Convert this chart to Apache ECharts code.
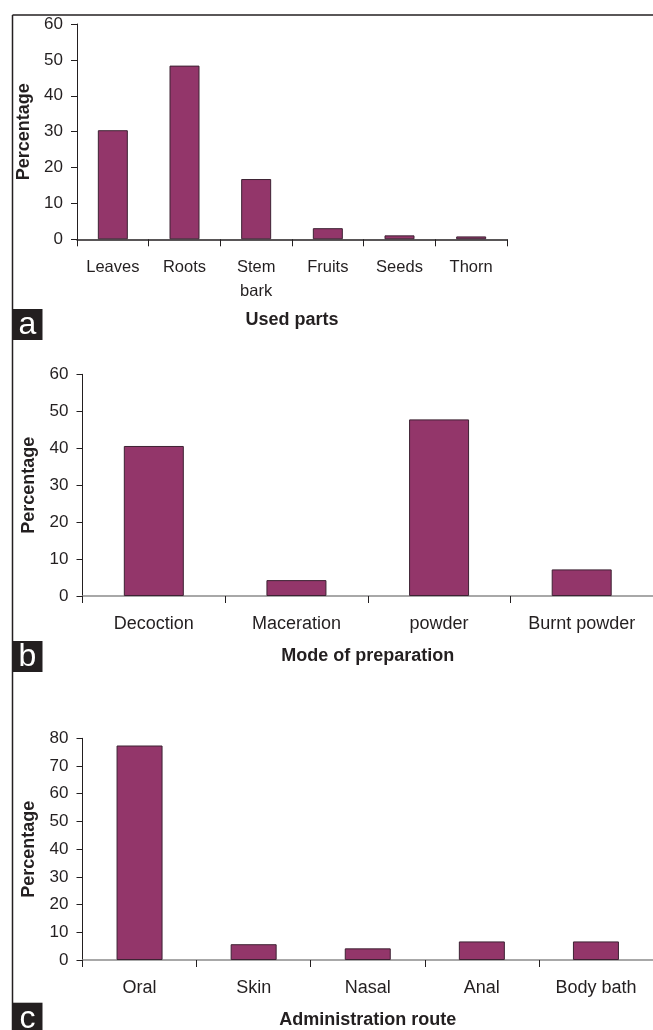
<!DOCTYPE html>
<html>
<head>
<meta charset="utf-8">
<script src="https://cdn.jsdelivr.net/npm/echarts@6/dist/echarts.min.js"></script>
<style>
html,body{margin:0;padding:0;background:#fff;}
#chart{width:653px;height:1030px;}
</style>
</head>
<body>
<div id="chart"></div>
<script>
// ---- data ----
var partsCategories = ['Leaves', 'Roots', 'Stem\nbark', 'Fruits', 'Seeds', 'Thorn'];
var partsValues = [30.4, 48.4, 16.8, 3.1, 1.1, 0.8];

var prepCategories = ['Decoction', 'Maceration', 'powder', 'Burnt powder'];
var prepValues = [40.6, 4.3, 47.8, 7.2];

var routeCategories = ['Oral', 'Skin', 'Nasal', 'Anal', 'Body bath'];
var routeValues = [77.4, 5.7, 4.2, 6.7, 6.7];

var panelLetters = ['a', 'b', 'c'];
var xNames = ['Used parts', 'Mode of preparation', 'Administration route'];
var yName = 'Percentage';

// ---- styles ----
var FONT = "'Liberation Sans', Arial, Helvetica, sans-serif";
var DARK = '#231f20';
var GREY = '#8c8c8c';
var BAR = '#93366a';
var BAR_BORDER = '#3d2233';

function xAxis(gridIndex, cats, name, fontSize, lineColor, nameGap) {
  return {
    type: 'category', gridIndex: gridIndex, data: cats,
    name: name, nameLocation: 'middle', nameGap: nameGap,
    nameTextStyle: {fontFamily: FONT, fontSize: 18, fontWeight: 'bold', color: DARK},
    axisLine: {show: true, lineStyle: {color: lineColor, width: 1.5}},
    axisTick: {show: true, length: 7, lineStyle: {color: DARK, width: 1}},
    axisLabel: {fontFamily: FONT, fontSize: fontSize, color: DARK, margin: 16, lineHeight: 24, interval: 0},
    splitLine: {show: false}
  };
}
function yAxis(gridIndex, max) {
  return {
    type: 'value', gridIndex: gridIndex, min: 0, max: max, interval: 10,
    name: yName, nameLocation: 'middle', nameGap: 44, nameRotate: 90,
    nameTextStyle: {fontFamily: FONT, fontSize: 18, fontWeight: 'bold', color: DARK},
    axisLine: {show: true, lineStyle: {color: DARK, width: 1}},
    axisTick: {show: true, length: 6, lineStyle: {color: DARK, width: 1}},
    axisLabel: {fontFamily: FONT, fontSize: 17, color: DARK, margin: 14},
    splitLine: {show: false}
  };
}
function barSeries(idx, values, width) {
  return {
    type: 'bar', xAxisIndex: idx, yAxisIndex: idx, data: values, barWidth: width,
    itemStyle: {color: BAR, borderColor: BAR_BORDER, borderWidth: 1},
    silent: true, animation: false
  };
}
function letterBox(letter, top) {
  return {
    type: 'group', left: 12.5, top: top,
    children: [
      {type: 'rect', shape: {x: 0, y: 0, width: 30, height: 31}, style: {fill: DARK}},
      {type: 'text', x: 15, y: 16, style: {text: letter, fill: '#fff', font: '32px ' + FONT, textAlign: 'center', textVerticalAlign: 'middle'}}
    ]
  };
}

var chart = echarts.init(document.getElementById('chart'), null, {renderer: 'canvas'});
chart.setOption({
  animation: false,
  backgroundColor: '#fff',
  grid: [
    {left: 77, top: 24, width: 430, height: 215.3},
    {left: 82.5, top: 374.3, width: 576, height: 221.7},
    {left: 82.5, top: 738.3, width: 576, height: 221.7}
  ],
  xAxis: [
    xAxis(0, partsCategories, xNames[0], 16.5, DARK, 72),
    xAxis(1, prepCategories, xNames[1], 18, GREY, 51),
    xAxis(2, routeCategories, xNames[2], 18, GREY, 51)
  ],
  yAxis: [yAxis(0, 60), yAxis(1, 60), yAxis(2, 80)],
  series: [
    barSeries(0, partsValues, 30),
    barSeries(1, prepValues, 60),
    barSeries(2, routeValues, 46)
  ],
  graphic: [
    {type: 'line', shape: {x1: 12.5, y1: 15, x2: 653, y2: 15}, style: {stroke: DARK, lineWidth: 1.5}},
    {type: 'line', shape: {x1: 12.5, y1: 15, x2: 12.5, y2: 1030}, style: {stroke: DARK, lineWidth: 1.5}},
    letterBox(panelLetters[0], 309),
    letterBox(panelLetters[1], 641),
    letterBox(panelLetters[2], 1002.7)
  ]
});
</script>
</body>
</html>
